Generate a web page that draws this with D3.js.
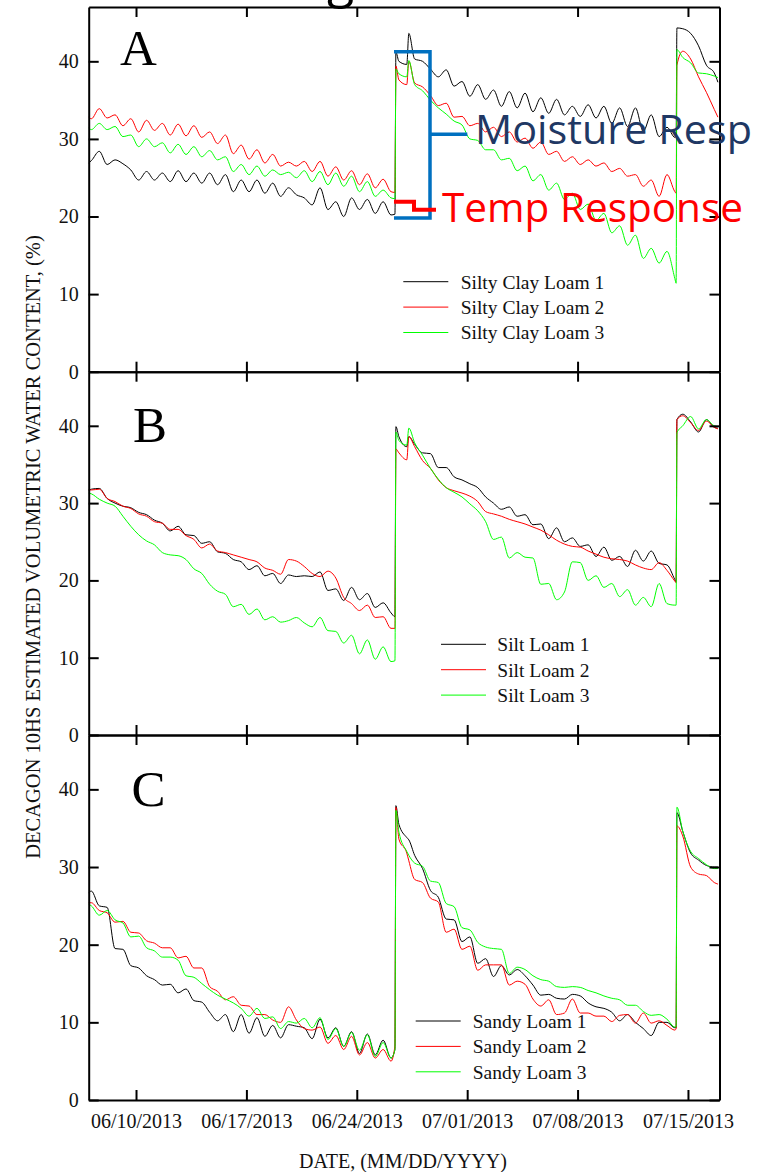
<!DOCTYPE html>
<html><head><meta charset="utf-8">
<script src="https://cdn.jsdelivr.net/npm/d3@7"></script>
<style>body{margin:0;background:#fff}svg{display:block}</style>
</head><body>
<svg id="chart" width="773" height="1172"></svg>
<script>
// time of each reading, in days since 06/07/2013 00:00
const DAYS = [0,
 0.17,0.67, 1.17,1.67, 2.17,2.67, 3.17,3.67, 4.17,4.67, 5.17,5.67, 6.17,6.67, 7.17,7.67, 8.17,8.67, 9.17,9.67,
 10.17,10.67, 11.17,11.67, 12.17,12.67, 13.17,13.67, 14.17,14.67, 15.17,15.67, 16.17,16.67, 17.17,17.67, 18.17,18.67,
 19.17,19.42,19.48,19.67,20.17,20.3,20.67,
 21.17,21.67, 22.17,22.67, 23.17,23.67, 24.17,24.67, 25.17,25.67, 26.17,26.67, 27.17,27.67, 28.17,28.67,
 29.17,29.67, 30.17,30.67, 31.17,31.67, 32.17,32.67, 33.17,33.67, 34.17,34.67, 35.17,35.67, 36.17,36.67,
 37.17,37.25,37.3,37.67,38.17,38.67,39.17,39.67,39.9];

// Panel A
const siltyClayLoam1 = [26.9,
 27.2,28.4, 26.7,27.3, 26.8,26.0, 24.7,25.8, 24.7,25.6, 24.5,25.9, 24.5,25.6, 24.3,25.6, 24.1,25.4, 23.2,24.7,
 23.2,24.7, 23.0,24.3, 22.6,23.7, 22.8,22.4, 21.5,23.7, 20.9,21.9, 20.0,22.4, 20.9,22.2, 20.4,21.9,
 20.2,20.3,41.2,40.0,39.6,43.6,40.3,
 40.0,39.0, 38.0,38.9, 36.8,37.4, 35.5,37.0, 35.1,36.3, 34.2,36.1, 34.0,35.9, 33.5,35.3,
 33.3,35.1, 33.1,34.2, 32.9,34.4, 32.7,34.2, 32.0,34.0, 31.6,34.0, 31.0,33.1, 30.3,31.5,
 30.2,30.4,44.3,44.2,43.6,42.0,39.5,38.5,37.3];
const siltyClayLoam2 = [32.8,
 32.6,33.9, 32.7,33.1, 31.7,32.6, 30.9,32.4, 31.1,32.0, 30.5,31.9, 30.4,31.7, 30.2,30.9, 29.4,30.5, 28.1,29.2,
 27.4,28.6, 26.9,28.0, 26.5,27.0, 26.5,27.1, 25.8,27.1, 25.2,26.4, 24.7,25.9, 24.1,25.5, 23.7,24.8,
 23.2,23.1,39.4,37.6,37.0,40.0,37.2,
 36.7,35.6, 34.3,34.6, 32.8,32.9, 31.7,32.0, 30.9,31.5, 30.3,30.9, 29.6,30.1, 28.8,29.6,
 28.0,28.4, 27.1,27.7, 26.7,27.3, 26.5,26.9, 25.8,26.2, 25.2,25.4, 23.9,24.7, 22.6,25.4,
 23.2,23.0,39.5,41.3,40.3,38.0,36.0,33.8,32.8];
const siltyClayLoam3 = [31.4,
 31.2,32.0, 31.2,31.6, 30.3,30.5, 29.0,30.0, 29.0,29.5, 28.2,29.3, 28.0,29.0, 27.7,28.5, 27.3,27.7, 25.8,26.7,
 25.4,26.5, 25.2,26.0, 25.4,25.7, 25.0,25.9, 24.5,25.8, 24.1,25.6, 23.9,25.2, 23.2,24.5, 22.6,23.4,
 22.4,22.3,39.0,38.4,38.0,40.1,37.0,
 36.2,35.0, 34.0,33.2, 32.3,31.8, 30.0,29.8, 28.6,28.6, 27.3,27.5, 25.9,26.5, 24.6,25.4,
 23.4,24.3, 22.2,23.0, 20.9,21.6, 19.5,20.4, 17.9,18.8, 16.3,17.6, 14.6,15.9, 14.0,15.5,
 12.0,11.4,41.5,40.5,39.8,38.5,38.4,38.1,37.9];

// Panel B
const siltLoam1 = [31.7,
 31.8,31.9, 30.6,30.0, 29.6,29.4, 28.8,28.5, 27.8,27.4, 26.4,27.0, 25.9,25.8, 24.8,25.0, 23.7,23.5, 22.7,22.4,
 21.4,21.9, 20.6,20.9, 19.6,20.7, 20.5,20.6, 20.5,21.1, 18.7,18.9, 17.4,19.1, 17.5,18.3, 16.5,17.1,
 15.8,15.3,39.9,38.6,37.3,38.6,37.6,
 36.5,36.4, 34.6,34.6, 33.4,33.0, 32.5,32.0, 30.8,30.0, 29.2,29.5, 28.3,28.5, 27.2,27.3,
 25.4,26.8, 25.0,25.5, 24.4,24.6, 23.1,24.3, 22.6,23.1, 21.8,23.9, 22.5,23.8, 22.2,22.0,
 20.1,19.8,40.8,41.5,40.5,39.2,40.8,39.8,39.7];
const siltLoam2 = [31.7,
 31.7,31.8, 30.6,30.2, 29.6,29.3, 28.6,28.3, 27.6,27.4, 26.6,26.6, 25.8,25.3, 24.2,24.7, 23.8,23.6, 23.3,23.0,
 22.7,22.4, 21.6,21.3, 20.8,22.7, 22.5,21.8, 20.9,20.5, 21.2,20.3, 17.8,17.0, 16.1,16.8, 15.2,15.3,
 13.8,13.8,37.0,36.5,35.6,38.6,37.3,
 35.5,34.5, 33.0,32.0, 31.6,31.3, 30.9,30.2, 28.9,28.6, 28.3,27.9, 27.6,27.3, 26.9,26.5,
 25.9,25.2, 24.7,24.4, 24.3,23.8, 23.4,23.0, 22.8,22.7, 22.5,22.0, 21.6,21.4, 22.3,21.3,
 19.9,19.7,40.8,41.3,40.4,39.4,40.6,39.8,39.6];
const siltLoam3 = [31.3,
 31.2,30.5, 30.0,29.6, 28.3,27.0, 25.9,25.1, 24.6,23.6, 23.3,23.2, 22.7,21.5, 20.9,19.5, 18.6,18.2, 16.6,16.9,
 15.6,16.3, 14.9,15.3, 14.6,14.8, 15.2,14.5, 14.0,15.2, 13.5,13.4, 11.9,12.9, 10.5,12.3, 9.8,11.4,
 9.5,9.6,39.2,38.1,37.5,39.7,37.8,
 36.2,34.5, 33.1,32.0, 31.4,30.8, 29.9,29.0, 27.6,25.3, 25.6,22.9, 23.6,23.0, 22.9,19.5,
 19.6,17.5, 18.5,22.4, 22.3,20.0, 20.6,19.1, 19.6,17.9, 18.8,16.8, 17.8,16.6, 19.6,17.0,
 16.8,16.8,39.1,40.0,41.2,39.6,40.8,40.0,39.9];

// Panel C
const sandyLoam1 = [26.7,
 26.9,25.0, 24.8,19.5, 19.4,17.3, 17.0,16.0, 15.5,14.8, 14.9,13.8, 14.3,12.8, 12.6,11.3, 10.2,11.0, 8.8,11.0,
 8.6,10.6, 8.2,9.6, 8.0,9.7, 9.5,9.3, 7.9,10.4, 8.0,9.3, 6.9,8.8, 6.0,8.5, 5.8,7.7,
 5.4,6.5,37.9,35.5,33.8,33.5,31.5,
 29.8,27.0, 26.1,23.3, 23.2,20.4, 21.0,17.6, 18.2,15.9, 17.3,16.1, 16.8,16.0, 14.8,13.5,
 13.6,13.1, 13.0,13.6, 13.4,12.5, 12.0,11.8, 11.3,10.2, 11.0,10.0, 9.2,8.3, 10.0,10.0,
 9.3,9.3,37.0,34.6,31.8,30.9,30.2,30.0,30.0];
const sandyLoam2 = [25.4,
 25.4,24.4, 24.1,22.9, 23.0,21.6, 21.5,20.5, 20.2,19.6, 19.6,18.3, 18.5,17.0, 17.0,14.6, 14.0,12.9, 13.3,12.2,
 12.1,11.0, 11.0,10.3, 10.0,12.0, 10.3,9.2, 9.0,9.4, 7.3,8.3, 6.5,8.2, 5.8,7.4, 5.4,6.5,
 5.0,7.0,37.7,33.6,31.8,30.8,28.4,
 28.0,26.0, 25.5,21.6, 22.0,19.4, 19.8,16.7, 17.4,17.4, 17.4,14.8, 15.3,14.9, 13.0,12.1,
 12.9,11.0, 11.2,13.0, 11.2,11.2, 10.8,10.8, 10.1,10.9, 11.0,9.9, 11.2,9.9, 10.2,9.6,
 9.0,9.2,35.3,34.0,30.0,29.1,28.9,28.0,27.8];
const sandyLoam3 = [25.2,
 25.0,23.8, 24.4,23.2, 22.8,21.0, 21.1,19.6, 19.2,18.4, 18.4,18.0, 16.0,15.8, 15.0,14.2, 13.5,13.0, 12.5,11.8,
 10.8,11.8, 10.5,10.7, 9.2,10.1, 9.9,10.5, 9.3,10.6, 7.8,9.2, 6.9,8.7, 6.4,8.4, 5.6,7.4,
 5.4,6.5,37.3,34.5,32.0,31.5,30.5,
 30.1,28.2, 28.0,25.3, 24.9,22.2, 21.9,20.3, 19.7,19.5, 19.4,16.3, 17.1,16.8, 16.0,15.5,
 15.3,14.6, 14.5,14.6, 14.5,14.1, 13.8,13.4, 13.1,12.9, 12.2,12.2, 11.4,10.9, 11.0,10.4,
 9.4,9.4,37.7,34.6,32.0,31.1,30.3,29.8,29.8];

const xTickLabels = ["06/10/2013","06/17/2013","06/24/2013","07/01/2013","07/08/2013","07/15/2013"];
const xDomainLabels = ["06/07/2013","07/17/2013"];
const yTicks = [0,10,20,30,40];
const panelLetters = ["A","B","C"];
const legendA = ["Silty Clay Loam 1","Silty Clay Loam 2","Silty Clay Loam 3"];
const legendB = ["Silt Loam 1","Silt Loam 2","Silt Loam 3"];
const legendC = ["Sandy Loam 1","Sandy Loam 2","Sandy Loam 3"];
const yTitle = "DECAGON 10HS ESTIMATED VOLUMETRIC WATER CONTENT, (%)";
const xTitle = "DATE, (MM/DD/YYYY)";
const noteMoisture = "Moisture Resp";
const noteTemp = "Temp Response";

// ---------- drawing ----------
const svg = d3.select("#chart");
svg.append("rect").attr("width",773).attr("height",1172).attr("fill","#fff");
const SERIF = "'Liberation Serif','Times New Roman',serif";
const SANS = "'Open Sans','Noto Sans',sans-serif";
const colors = ["#000000","#ff0000","#00ff00"];

const parse = d3.timeParse("%m/%d/%Y");
const fmt = d3.timeFormat("%m/%d/%Y");
const start = parse(xDomainLabels[0]);
const toDate = t => new Date(start.getTime() + t*86400000);
const X0 = 88.7, X1 = 719.5;
const x = d3.scaleTime().domain(xDomainLabels.map(parse)).range([X0, X1]);
const tickDates = xTickLabels.map(parse);

const panels = [
  {top:7, bottom:371.7, series:[siltyClayLoam1,siltyClayLoam2,siltyClayLoam3], names:legendA,
   letter:[120,65], leg:{x1:403.3,x2:448.3,y:281.7,tx:460.7}},
  {top:371.7, bottom:735, series:[siltLoam1,siltLoam2,siltLoam3], names:legendB,
   letter:[133,441.5], leg:{x1:441,x2:486,y:644.3,tx:497.3}},
  {top:735, bottom:1100, series:[sandyLoam1,sandyLoam2,sandyLoam3], names:legendC,
   letter:[131.5,805.5], leg:{x1:415.7,x2:460.7,y:1021,tx:472.7}}
];

function styleAxis(g){
  g.select(".domain").attr("stroke","#000").attr("stroke-width",2);
  g.selectAll(".tick line").attr("stroke","#000").attr("stroke-width",2);
  g.attr("font-family",SERIF).attr("font-size",20);
  g.selectAll(".tick text").attr("fill","#111");
}

panels.forEach((p,i)=>{
  const y = d3.scaleLinear().domain([0,47]).range([p.bottom, p.top]);
  const g = svg.append("g");
  const line = d3.line().curve(d3.curveMonotoneX).x(d=>x(toDate(d[0]))).y(d=>y(d[1]));
  p.series.forEach((s,k)=>{
    const n = Math.min(s.length, DAYS.length);
    const pts = d3.range(n).map(j=>[DAYS[j], s[j]]);
    g.append("path").datum(pts).attr("d",line).attr("fill","none")
      .attr("stroke",colors[k]).attr("stroke-width",1).attr("stroke-linejoin","round");
  });
  g.append("g").attr("transform",`translate(${X0},0)`)
    .call(d3.axisLeft(y).tickValues(yTicks).tickSize(-10).tickSizeOuter(0).tickPadding(10)).call(styleAxis);
  g.append("g").attr("transform",`translate(${X1},0)`)
    .call(d3.axisRight(y).tickValues(yTicks).tickSize(-10).tickSizeOuter(0).tickFormat(()=>"")).call(styleAxis);
  g.append("g").attr("transform",`translate(0,${p.top})`)
    .call(d3.axisTop(x).tickValues(tickDates).tickSize(-10).tickSizeOuter(0).tickFormat(()=>"")).call(styleAxis);
  g.append("g").attr("transform",`translate(0,${p.bottom})`)
    .call(d3.axisBottom(x).tickValues(tickDates).tickSize(-10).tickSizeOuter(0).tickPadding(14)
      .tickFormat(i===2 ? fmt : ()=>"")).call(styleAxis);
  // letter
  g.append("text").attr("x",p.letter[0]).attr("y",p.letter[1]).attr("font-family",SERIF)
    .attr("font-size",51).attr("fill","#000").text(panelLetters[i]);
  // legend
  p.names.forEach((nm,k)=>{
    const yy = p.leg.y + k*25.4;
    g.append("line").attr("x1",p.leg.x1).attr("x2",p.leg.x2).attr("y1",yy).attr("y2",yy)
      .attr("stroke",colors[k]).attr("stroke-width",1);
    g.append("text").attr("x",p.leg.tx).attr("y",yy).attr("dy","0.35em").attr("font-family",SERIF)
      .attr("font-size",19.5).attr("fill","#111").text(nm);
  });
});

// axis titles
svg.append("text").attr("transform","translate(33,547) rotate(-90)").attr("dy","0.35em")
  .attr("text-anchor","middle").attr("font-family",SERIF).attr("font-size",20.5).attr("fill","#111").text(yTitle);
svg.append("text").attr("x",403).attr("y",1168).attr("text-anchor","middle")
  .attr("font-family",SERIF).attr("font-size",20).attr("fill","#111").text(xTitle);

// slide title remnant at top (cut off by the page edge, as in the reference)
svg.append("text").attr("x",327).attr("y",-3).attr("font-family",SANS).attr("font-size",50)
  .attr("fill","#000").text("g");

// annotations
svg.append("path").attr("d","M394,51.7H430V218H394M430,134.3H467.3").attr("fill","none")
  .attr("stroke","#0070c0").attr("stroke-width",3.5);
svg.append("path").attr("d","M394,201.7H414V209.7H436").attr("fill","none")
  .attr("stroke","#ff0000").attr("stroke-width",4);
svg.append("text").attr("x",475).attr("y",143.5).attr("font-family",SANS).attr("font-size",41)
  .attr("fill","#1f3864").attr("textLength",277).attr("lengthAdjust","spacingAndGlyphs").text(noteMoisture);
svg.append("text").attr("x",442).attr("y",222).attr("font-family",SANS).attr("font-size",41)
  .attr("fill","#ff0000").attr("textLength",301).attr("lengthAdjust","spacingAndGlyphs").text(noteTemp);
</script>
</body></html>
